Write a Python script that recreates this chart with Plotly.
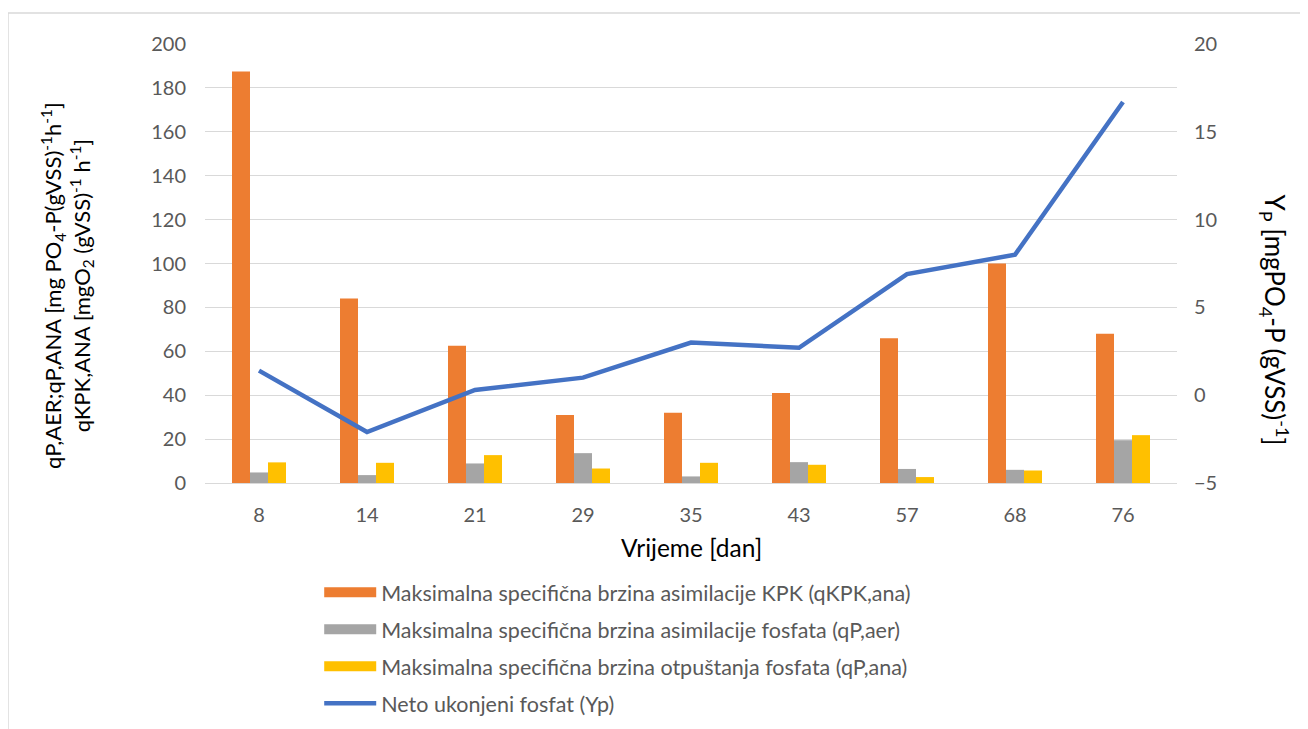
import plotly.graph_objects as go

days = ["8", "14", "21", "29", "35", "43", "57", "68", "76"]
q_kpk_ana = [187.5, 84, 62.5, 31, 32, 41, 66, 100, 68]
q_p_aer = [4.8, 3.6, 8.9, 13.6, 3.0, 9.5, 6.4, 6.0, 19.5]
q_p_ana = [9.4, 9.2, 12.7, 6.6, 9.2, 8.3, 2.7, 5.7, 21.8]
yp = [1.4, -2.1, 0.3, 1.0, 3.0, 2.7, 6.9, 8.0, 16.7]

names = [
    "Maksimalna specifična brzina asimilacije KPK (qKPK,ana)",
    "Maksimalna specifična brzina asimilacije fosfata (qP,aer)",
    "Maksimalna specifična brzina otpuštanja fosfata (qP,ana)",
    "Neto ukonjeni fosfat (Yp)",
]
c_orange, c_gray, c_yellow, c_blue = "#ED7D31", "#A5A5A5", "#FFC000", "#4472C4"

FONT = "Lato, 'Open Sans', sans-serif"
fig = go.Figure()
for vals, col in [(q_kpk_ana, c_orange), (q_p_aer, c_gray), (q_p_ana, c_yellow)]:
    fig.add_trace(go.Bar(x=days, y=vals, marker=dict(color=col, line=dict(width=0)),
                         showlegend=False, yaxis="y"))
fig.add_trace(go.Scatter(x=days, y=yp, mode="lines", line=dict(color=c_blue, width=4.5),
                         showlegend=False, yaxis="y2"))

# legend entries
for i, (nm, col, w) in enumerate([(names[0], c_orange, 14), (names[1], c_gray, 14),
                                  (names[2], c_yellow, 14), (names[3], c_blue, 4.5)]):
    fig.add_trace(go.Scatter(x=[None], y=[None], mode="lines", name=nm, legendgroup=f"g{i}",
                             line=dict(color=col, width=w), yaxis="y"))

fig.update_layout(
    width=1300, height=721,
    margin=dict(l=197, r=131, t=36, b=246),
    paper_bgcolor="white", plot_bgcolor="white",
    font=dict(family=FONT, color="#595959", size=20),
    barmode="group", bargap=0.5, bargroupgap=0,
    xaxis=dict(type="category", showgrid=False, showline=True, linecolor="#D9D9D9",
               ticks="", tickfont=dict(size=20, color="#595959"), ticklabelstandoff=14),
    yaxis=dict(range=[0, 200], dtick=20, showgrid=True, gridcolor="#D9D9D9", gridwidth=1,
               zeroline=False, showline=False, ticks="", tickfont=dict(size=20, color="#595959"),
               ticklabelstandoff=18),
    yaxis2=dict(range=[-5, 20], dtick=5, overlaying="y", side="right", showgrid=False,
                zeroline=False, showline=False, ticks="", tickfont=dict(size=20, color="#595959"),
                ticklabelstandoff=16),
    legend=dict(x=0.1175, y=0.218, xanchor="left", yanchor="top", yref="container",
                orientation="v",
                font=dict(size=21.5, color="#595959"), itemwidth=52, tracegroupgap=6,
                bgcolor="rgba(0,0,0,0)"),
    annotations=[
        dict(xref="paper", yref="paper", x=-0.142, y=0.451, xanchor="center", yanchor="middle",
             textangle=-90, showarrow=False, align="center",
             text="qP,AER;qP,ANA [mg PO<sub>4</sub>-P(gVSS)<sup>-1</sup>h<sup>-1</sup>]<br>qKPK,ANA [mgO<sub>2</sub> (gVSS)<sup>-1</sup> h<sup>-1</sup>]",
             font=dict(size=22, color="black", family=FONT)),
        dict(xref="paper", yref="paper", x=1.1008, y=0.37, xanchor="center", yanchor="middle",
             textangle=90, showarrow=False,
             text="Y<sub>P</sub> [mgPO<sub>4</sub>-P (gVSS)<sup>-1</sup>]",
             font=dict(size=26, color="black", family=FONT)),
        dict(xref="paper", yref="paper", x=0.5, y=-0.148, xanchor="center", yanchor="middle",
             showarrow=False, text="Vrijeme [dan]",
             font=dict(size=24.5, color="black", family=FONT)),
    ],
    shapes=[dict(type="rect", xref="paper", yref="paper", x0=-0.2027, x1=1.2, y0=-0.75, y1=1.0706,
                 line=dict(color="#D9D9D9", width=1.5), fillcolor="rgba(0,0,0,0)", layer="below")],
)

fig.write_html("out.html")
